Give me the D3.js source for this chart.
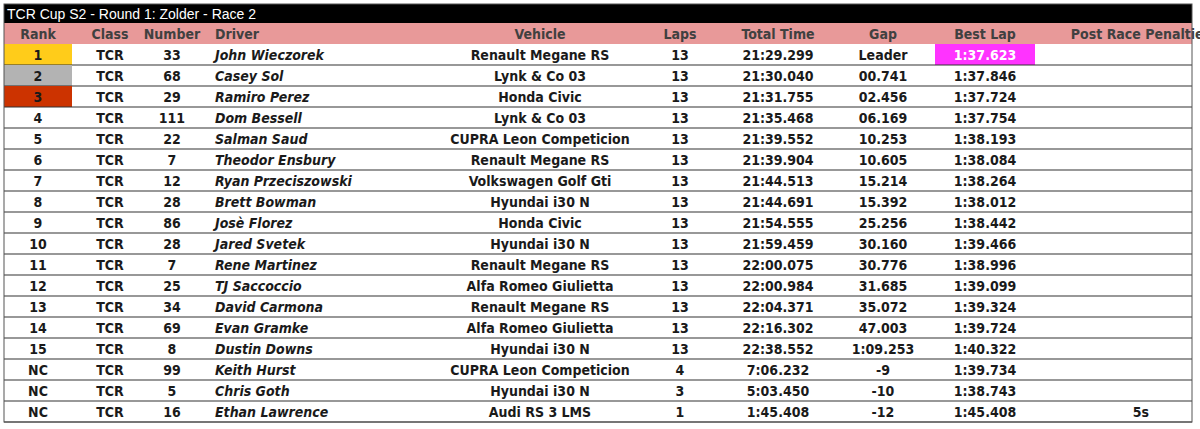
<!DOCTYPE html>
<html><head><meta charset="utf-8">
<script src="https://cdn.jsdelivr.net/npm/d3@7"></script>
<style>body{margin:0;background:#fff}</style>
</head><body><div id="chart"></div>
<script>
const title = "TCR Cup S2 - Round 1: Zolder - Race 2";
const headers = ["Rank","Class","Number","Driver","Vehicle","Laps","Total Time","Gap","Best Lap","Post Race Penalties"];
const ranks = ["1","2","3","4","5","6","7","8","9","10","11","12","13","14","15","NC","NC","NC"];
const numbers = ["33","68","29","111","22","7","12","28","86","28","7","25","34","69","8","99","5","16"];
const drivers = ["John Wieczorek","Casey Sol","Ramiro Perez","Dom Bessell","Salman Saud","Theodor Ensbury","Ryan Przeciszowski","Brett Bowman","Josè Florez","Jared Svetek","Rene Martinez","TJ Saccoccio","David Carmona","Evan Gramke","Dustin Downs","Keith Hurst","Chris Goth","Ethan Lawrence"];
const vehicles = ["Renault Megane RS","Lynk & Co 03","Honda Civic","Lynk & Co 03","CUPRA Leon Competicion","Renault Megane RS","Volkswagen Golf Gti","Hyundai i30 N","Honda Civic","Hyundai i30 N","Renault Megane RS","Alfa Romeo Giulietta","Renault Megane RS","Alfa Romeo Giulietta","Hyundai i30 N","CUPRA Leon Competicion","Hyundai i30 N","Audi RS 3 LMS"];
const laps = [13,13,13,13,13,13,13,13,13,13,13,13,13,13,13,4,3,1];
const totals = ["21:29.299","21:30.040","21:31.755","21:35.468","21:39.552","21:39.904","21:44.513","21:44.691","21:54.555","21:59.459","22:00.075","22:00.984","22:04.371","22:16.302","22:38.552","7:06.232","5:03.450","1:45.408"];
const gaps = ["Leader","00.741","02.456","06.169","10.253","10.605","15.214","15.392","25.256","30.160","30.776","31.685","35.072","47.003","1:09.253","-9","-10","-12"];
const bestLaps = ["1:37.623","1:37.846","1:37.724","1:37.754","1:38.193","1:38.084","1:38.264","1:38.012","1:38.442","1:39.466","1:38.996","1:39.099","1:39.324","1:39.724","1:40.322","1:39.734","1:38.743","1:45.408"];
const penalties = ["","","","","","","","","","","","","","","","","","5s"];

const W = 1200, H = 429;
const x0 = 4, x1 = 1192, y0 = 4, titleH = 19, headH = 21, rowH = 21;
// column edges: [start, end, anchor]
const cols = [
  [4,72,"middle"],[72,148,"middle"],[148,196,"middle"],[215,420,"start"],[420,660,"middle"],
  [660,700,"middle"],[720,836,"middle"],[836,930,"middle"],[935,1035,"middle"],[1090,1192,"middle"]];
const podium = ["#ffcc1a","#b3b3b3","#cc3300"];

const svg = d3.select("#chart").append("svg").attr("width", W).attr("height", H);
const font = "'Liberation Sans Narrow','DejaVu Sans Condensed',sans-serif";
const colX = (i) => cols[i][2]==="start" ? cols[i][0] : (cols[i][0]+cols[i][1])/2;

svg.append("rect").attr("x", x0).attr("y", y0).attr("width", x1-x0).attr("height", titleH).attr("fill", "#000");
svg.append("text").attr("x", x0+3).attr("y", y0+15).attr("fill", "#fff")
  .attr("font-family", "'Liberation Sans',Arial,sans-serif").attr("font-size", 14).text(title);

const hy = y0 + titleH;
svg.append("rect").attr("x", x0).attr("y", hy).attr("width", x1-x0).attr("height", headH).attr("fill", "#e89999");
svg.selectAll(".h").data(headers).enter().append("text")
  .attr("x", (d,i) => colX(i)).attr("y", hy+16).attr("text-anchor", (d,i)=>cols[i][2])
  .attr("font-family", font).attr("font-weight","bold").attr("font-size", 14).attr("fill","#404040").text(d=>d);

const y = d3.scaleBand().domain(d3.range(ranks.length)).range([hy+headH, hy+headH+rowH*ranks.length]);

const rows = ranks.map((r,i)=>[r,"TCR",numbers[i],drivers[i],vehicles[i],String(laps[i]),totals[i],gaps[i],bestLaps[i],penalties[i]]);
const g = svg.selectAll(".row").data(rows).enter().append("g").attr("transform",(d,i)=>`translate(0,${y(i)})`);

g.filter((d,i)=>i<3).append("rect").attr("x",cols[0][0]).attr("width",cols[0][1]-cols[0][0])
  .attr("height",rowH).attr("fill",(d,i)=>podium[i]);
g.filter((d,i)=>i===0).append("rect").attr("x",cols[8][0]).attr("width",cols[8][1]-cols[8][0])
  .attr("height",rowH).attr("fill","#ff33ff");
g.append("line").attr("x1",x0).attr("x2",x1).attr("y1",rowH).attr("y2",rowH).attr("stroke","#333").attr("stroke-width",1.2);

g.selectAll("text").data((d,ri)=>d.map(v=>({v,ri}))).enter().append("text")
  .attr("x",(d,i)=>colX(i)).attr("y",16).attr("text-anchor",(d,i)=>cols[i][2])
  .attr("font-family",font).attr("font-weight","bold").attr("font-size",14)
  .attr("font-style",(d,i)=>i===3?"italic":"normal")
  .attr("fill",(d,i)=>(i===8&&d.ri===0)?"#fff":"#1a1a1a").text(d=>d.v);

svg.append("rect").attr("x",x0).attr("y",y0).attr("width",x1-x0).attr("height",y.range()[1]-y0)
  .attr("fill","none").attr("stroke","#555").attr("stroke-width",1);
</script></body></html>
